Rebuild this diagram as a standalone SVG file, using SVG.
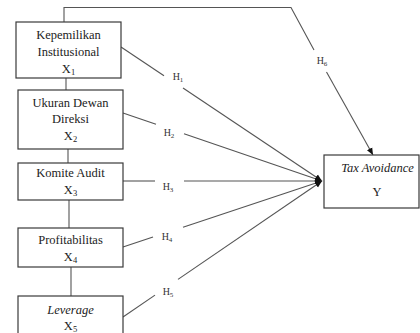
<svg xmlns="http://www.w3.org/2000/svg" width="420" height="333" viewBox="0 0 420 333">
<style>
.box{fill:#fff;stroke:#3a3a3a;stroke-width:1.2}
.t{font-family:'Liberation Serif','Times New Roman','DejaVu Serif',serif;font-size:12.5px;fill:#222;text-anchor:middle}
.i{font-style:italic}
.sub{font-size:8.5px}
.h{font-family:'Liberation Serif','Times New Roman','DejaVu Serif',serif;font-size:10px;fill:#333;text-anchor:middle}
.hs{font-size:7px}
.c{fill:none;stroke:#555;stroke-width:1.1}
</style>
<defs>
<marker id="ah" markerUnits="userSpaceOnUse" markerWidth="8" markerHeight="8" refX="7" refY="4" orient="auto">
<path d="M0,1 L7,4 L0,7 Z" fill="#111"/>
</marker>
</defs>
<rect width="420" height="333" fill="#fff"/>
<g id="connectors">
<path class="c" d="M64,22 V7.5 H291 L314,50"/>
<path class="c" d="M326.5,72 L373,155" marker-end="url(#ah)"/>
<line class="c" x1="66" y1="78" x2="66" y2="90"/>
<line class="c" x1="68" y1="149" x2="68" y2="163"/>
<line class="c" x1="69" y1="200" x2="69" y2="228"/>
<line class="c" x1="71" y1="267" x2="71" y2="296"/>
<line class="c" x1="121" y1="47" x2="164" y2="75.7"/>
<line class="c" x1="183" y1="88" x2="322" y2="181" marker-end="url(#ah)"/>
<line class="c" x1="123" y1="113" x2="156" y2="124.3"/>
<line class="c" x1="184" y1="133.8" x2="322" y2="181" marker-end="url(#ah)"/>
<line class="c" x1="123" y1="181" x2="155" y2="181"/>
<line class="c" x1="184" y1="181" x2="322" y2="181" marker-end="url(#ah)"/>
<line class="c" x1="123" y1="247" x2="153" y2="237"/>
<line class="c" x1="183" y1="227.3" x2="322" y2="181" marker-end="url(#ah)"/>
<line class="c" x1="123" y1="317" x2="155" y2="295.1"/>
<line class="c" x1="178" y1="279.4" x2="322" y2="181" marker-end="url(#ah)"/>
<text class="h" x="178" y="80">H<tspan class="hs" dy="1.5">1</tspan></text>
<text class="h" x="169" y="136">H<tspan class="hs" dy="1.5">2</tspan></text>
<text class="h" x="168" y="190">H<tspan class="hs" dy="1.5">3</tspan></text>
<text class="h" x="167" y="240">H<tspan class="hs" dy="1.5">4</tspan></text>
<text class="h" x="168" y="295">H<tspan class="hs" dy="1.5">5</tspan></text>
<text class="h" x="322" y="64">H<tspan class="hs" dy="1.5">6</tspan></text>
</g>
<g id="x1">
<rect class="box" x="16" y="22" width="105" height="56"/>
<text class="t" x="68.5" y="39">Kepemilikan</text>
<text class="t" x="68.5" y="56">Institusional</text>
<text class="t" x="68.5" y="73">X<tspan class="sub" dy="2">1</tspan></text>
</g>
<g id="x2">
<rect class="box" x="18" y="90" width="105" height="59"/>
<text class="t" x="70.5" y="107">Ukuran Dewan</text>
<text class="t" x="70.5" y="123">Direksi</text>
<text class="t" x="70.5" y="140">X<tspan class="sub" dy="2">2</tspan></text>
</g>
<g id="x3">
<rect class="box" x="18" y="163" width="105" height="37"/>
<text class="t" x="70.5" y="177">Komite Audit</text>
<text class="t" x="70.5" y="194">X<tspan class="sub" dy="2">3</tspan></text>
</g>
<g id="x4">
<rect class="box" x="18" y="228" width="105" height="39"/>
<text class="t" x="70.5" y="244">Profitabilitas</text>
<text class="t" x="70.5" y="261">X<tspan class="sub" dy="2">4</tspan></text>
</g>
<g id="x5">
<rect class="box" x="18" y="296" width="105" height="50"/>
<text class="t i" x="70.5" y="314">Leverage</text>
<text class="t" x="70.5" y="330">X<tspan class="sub" dy="2">5</tspan></text>
</g>
<g id="y">
<rect class="box" x="324" y="155" width="95" height="53"/>
<text class="t i" x="377.5" y="172">Tax Avoidance</text>
<text class="t" x="377" y="196">Y</text>
</g>
</svg>
